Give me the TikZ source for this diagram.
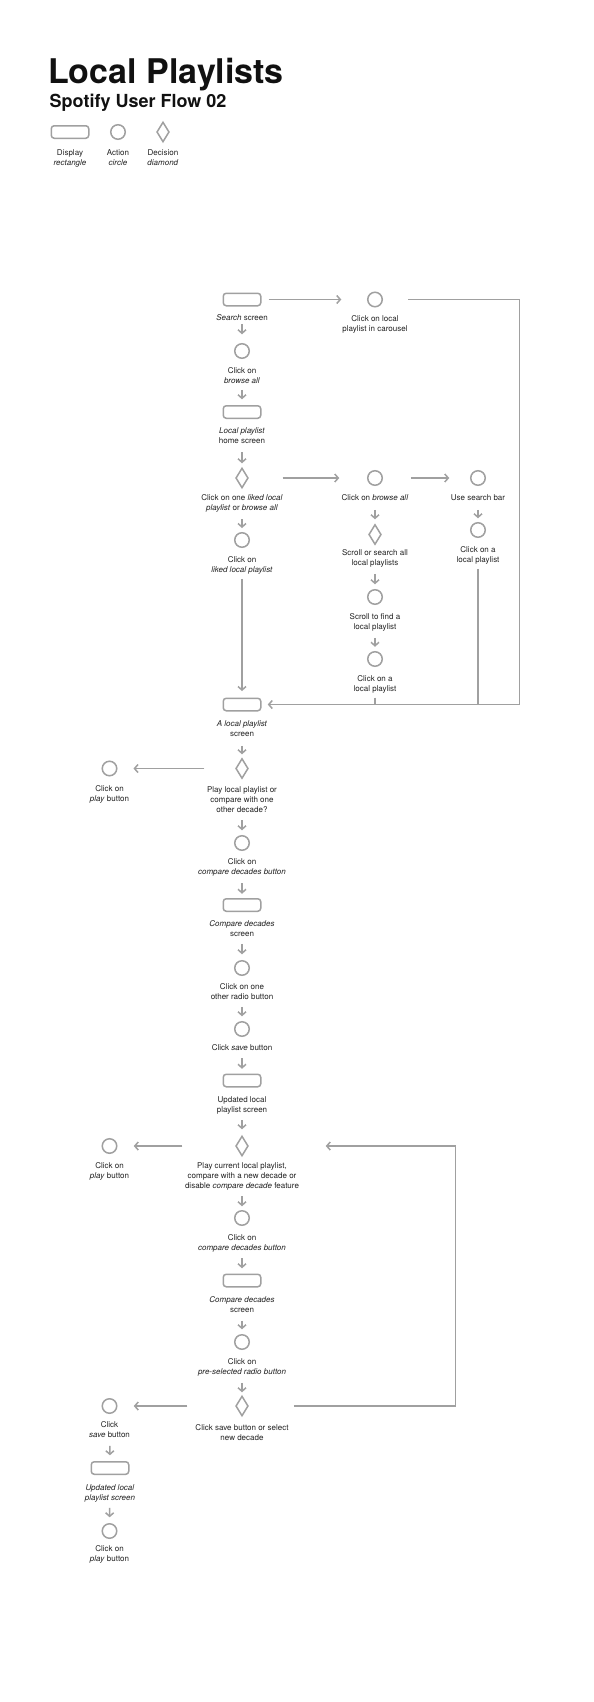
\documentclass[tikz,border=0pt]{standalone}
\usepackage{fontspec}
\setmainfont{TeX Gyre Heros}
\usetikzlibrary{shapes.geometric,arrows.meta}
\definecolor{linegray}{RGB}{160,160,160}
\definecolor{txt}{RGB}{34,34,34}
\definecolor{ttl}{RGB}{17,17,17}
\tikzset{
  shp/.style={draw=linegray, line width=1.5pt, inner sep=0pt},
  scr/.style={shp, rectangle, rounded corners=3pt, minimum width=37.5pt, minimum height=12.5pt},
  act/.style={shp, circle, minimum size=14.5pt},
  dec/.style={shp, diamond, minimum width=12.5pt, minimum height=20pt},
  lbl/.style={anchor=north, inner sep=0pt, align=center, text=txt, font=\fontsize{8}{10}\selectfont},
  conn/.style={draw=linegray, line width=1.5pt},
  arr/.style={conn, -{Straight Barb[length=3.5pt,width=8pt]}},
}
\begin{document}
\begin{tikzpicture}[x=1pt,y=-1pt]
\fill[white] (0,0) rectangle (594,1702);
\path[use as bounding box] (0,0) rectangle (594,1702);

% title
\node[anchor=base west, inner sep=0pt, font=\fontsize{34}{40}\selectfont\bfseries, text=ttl] (title) at (48,83) {Local Playlists};
\node[anchor=base west, inner sep=0pt, font=\fontsize{18}{22}\selectfont\bfseries, text=ttl] (subtitle) at (49.5,107) {Spotify User Flow 02};

% legend
\node[scr] (lg_r) at (70,132) {};
\node[act] (lg_c) at (118,132) {};
\node[dec] (lg_d) at (163,132) {};
\node[lbl] (lg_rt) at (70,149.3) {Display\\\textit{rectangle}};
\node[lbl] (lg_ct) at (118,149.3) {Action\\\textit{circle}};
\node[lbl] (lg_dt) at (163,149.3) {Decision\\\textit{diamond}};

% nodes
\node[scr] (r1) at (242,299.5) {};
\node[lbl] (t_r1) at (242,314) {\textit{Search} screen};
\node[act] (c_car) at (375,299.5) {};
\node[lbl] (t_car) at (375,315) {Click on local\\playlist in carousel};
\node[act] (c_ba) at (242,351) {};
\node[lbl] (t_ba) at (242,367) {Click on\\\textit{browse all}};
\node[scr] (r2) at (242,412) {};
\node[lbl] (t_r2) at (242,427.5) {\textit{Local playlist}\\home screen};
\node[dec] (d1) at (242,478) {};
\node[lbl] (t_d1) at (242,494.5) {Click on one \textit{liked local}\\\textit{playlist} or \textit{browse all}};
\node[act] (c_lk) at (242,540) {};
\node[lbl] (t_lk) at (242,556) {Click on\\\textit{liked local playlist}};
\node[act] (c_ba2) at (375,478) {};
\node[lbl] (t_ba2) at (375,494) {Click on \textit{browse all}};
\node[act] (c_sb) at (478,478) {};
\node[lbl] (t_sb) at (478,494.5) {Use search bar};
\node[dec] (d2) at (375,534.5) {};
\node[lbl] (t_d2) at (375,549) {Scroll or search all\\local playlists};
\node[act] (c_sc) at (375,597) {};
\node[lbl] (t_sc) at (375,613) {Scroll to find a\\local playlist};
\node[act] (c_ca) at (375,659) {};
\node[lbl] (t_ca) at (375,675) {Click on a\\local playlist};
\node[act] (c_cb) at (478,530) {};
\node[lbl] (t_cb) at (478,546) {Click on a\\local playlist};
\node[scr] (r3) at (242,704.5) {};
\node[lbl] (t_r3) at (242,720.5) {\textit{A local playlist}\\screen};
\node[dec] (d3) at (242,768.5) {};
\node[lbl] (t_d3) at (242,786.5) {Play local playlist or\\compare with one\\other decade?};
\node[act] (c_p1) at (109.5,768.5) {};
\node[lbl] (t_p1) at (109.5,785) {Click on\\\textit{play} button};
\node[act] (c_cd1) at (242,843) {};
\node[lbl] (t_cd1) at (242,858.5) {Click on\\\textit{compare decades button}};
\node[scr] (r4) at (242,905) {};
\node[lbl] (t_r4) at (242,920) {\textit{Compare decades}\\screen};
\node[act] (c_rb) at (242,968) {};
\node[lbl] (t_rb) at (242,983) {Click on one\\other radio button};
\node[act] (c_sv) at (242,1029) {};
\node[lbl] (t_sv) at (242,1044) {Click \textit{save} button};
\node[scr] (r5) at (242,1080.5) {};
\node[lbl] (t_r5) at (242,1096) {Updated local\\playlist screen};
\node[dec] (d4) at (242,1146) {};
\node[lbl] (t_d4) at (242,1162) {Play current local playlist,\\compare with a new decade or\\disable \textit{compare decade} feature};
\node[act] (c_p2) at (109.5,1146) {};
\node[lbl] (t_p2) at (109.5,1162) {Click on\\\textit{play} button};
\node[act] (c_cd2) at (242,1218) {};
\node[lbl] (t_cd2) at (242,1234) {Click on\\\textit{compare decades button}};
\node[scr] (r6) at (242,1280.5) {};
\node[lbl] (t_r6) at (242,1296) {\textit{Compare decades}\\screen};
\node[act] (c_ps) at (242,1342) {};
\node[lbl] (t_ps) at (242,1358) {Click on\\\textit{pre-selected radio button}};
\node[dec] (d5) at (242,1406) {};
\node[lbl] (t_d5) at (242,1424) {Click save button or select\\new decade};
\node[act] (c_sv2) at (109.5,1406) {};
\node[lbl] (t_sv2) at (109.5,1421) {Click\\\textit{save} button};
\node[scr] (r7) at (110,1468) {};
\node[lbl] (t_r7) at (110,1484) {\textit{Updated local}\\\textit{playlist screen}};
\node[act] (c_p3) at (109.5,1531) {};
\node[lbl] (t_p3) at (109.5,1545) {Click on\\\textit{play} button};

% horizontal connectors
\draw[arr, shorten <=7pt, shorten >=25.75pt] (r1) -- (c_car);
\draw[arr, shorten <=33.5pt, shorten >=27.75pt] (d1) -- (c_ba2);
\draw[arr, shorten <=27.75pt, shorten >=20.75pt] (c_ba2) -- (c_sb);
\draw[arr, shorten <=30.75pt, shorten >=16pt] (d3) -- (c_p1);
\draw[arr, shorten <=52.75pt, shorten >=16.25pt] (d4) -- (c_p2);
\draw[arr, shorten <=47.75pt, shorten >=16.25pt] (d5) -- (c_sv2);

% loops
\coordinate (tr1) at (519.5,299.5);
\coordinate (tr2) at (519.5,704.5);
\draw[arr, shorten <=25.25pt, shorten >=6.25pt] (c_car) -- (tr1) -- (tr2) -- (r3);
\coordinate (lp1) at (455.7,1406);
\coordinate (lp2) at (455.7,1146);
\draw[arr, shorten <=44.75pt, shorten >=76.75pt] (d5) -- (lp1) -- (lp2) -- (d4);

% vertical connectors, main column
\draw[arr, shorten <=17.25pt, shorten >=8.75pt] (r1) -- (c_ba);
\draw[arr, shorten <=30.75pt, shorten >=5.75pt] (c_ba) -- (r2);
\draw[arr, shorten <=33.25pt, shorten >=4pt] (r2) -- (d1);
\draw[arr, shorten <=30.5pt, shorten >=4pt] (d1) -- (c_lk);
\draw[arr, shorten <=30.75pt, shorten >=6.5pt] (c_lk) -- (r3);
\draw[arr, shorten <=34.25pt, shorten >=3.5pt] (r3) -- (d3);
\draw[arr, shorten <=41pt, shorten >=4.75pt] (d3) -- (c_cd1);
\draw[arr, shorten <=32.25pt, shorten >=4.25pt] (c_cd1) -- (r4);
\draw[arr, shorten <=31.75pt, shorten >=5.75pt] (r4) -- (c_rb);
\draw[arr, shorten <=30.75pt, shorten >=4.75pt] (c_rb) -- (c_sv);
\draw[arr, shorten <=21.25pt, shorten >=4.75pt] (c_sv) -- (r5);
\draw[arr, shorten <=32.75pt, shorten >=6pt] (r5) -- (d4);
\draw[arr, shorten <=39.5pt, shorten >=3.75pt] (d4) -- (c_cd2);
\draw[arr, shorten <=32.25pt, shorten >=5.25pt] (c_cd2) -- (r6);
\draw[arr, shorten <=33.25pt, shorten >=4.75pt] (r6) -- (c_ps);
\draw[arr, shorten <=32.75pt, shorten >=3pt] (c_ps) -- (d5);

% left column
\draw[arr, shorten <=31.75pt, shorten >=5.75pt] (c_sv2) -- (r7);
\draw[arr, shorten <=32.75pt, shorten >=5.75pt] (r7) -- (c_p3);

% column 2
\draw[arr, shorten <=23.75pt, shorten >=4.5pt] (c_ba2) -- (d2);
\draw[arr, shorten <=28.5pt, shorten >=4.75pt] (d2) -- (c_sc);
\draw[arr, shorten <=32.75pt, shorten >=4.25pt] (c_sc) -- (c_ca);
\draw[conn, shorten <=30.5pt] (c_ca) -- (c_ca |- r3);

% column 3
\draw[arr, shorten <=23.75pt, shorten >=3.75pt] (c_sb) -- (c_cb);
\draw[conn, shorten <=30.75pt] (c_cb) -- (c_cb |- r3);
\end{tikzpicture}
\end{document}
